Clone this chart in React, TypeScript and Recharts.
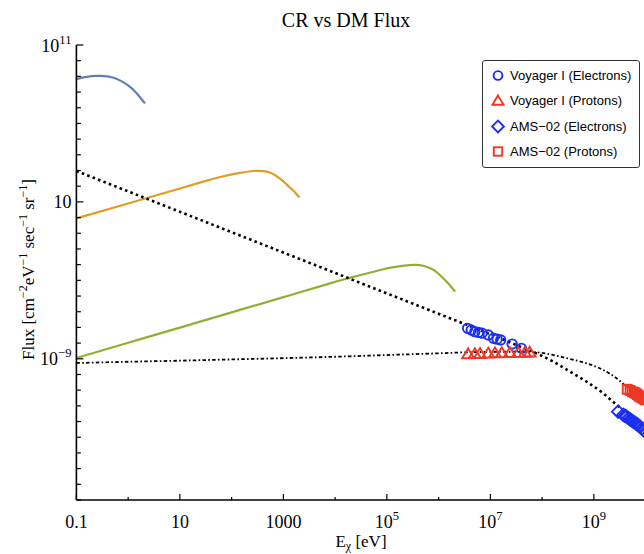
import { ComposedChart, Line, Scatter, XAxis, YAxis, Legend } from "recharts";

const SERIF = "'Liberation Serif', 'Times New Roman', serif";
const SANS = "'Liberation Sans', Arial, sans-serif";
const BLUE = "#1b2ff2";
const RED = "#ee3826";

// decades on the axes (log10 of the value)
const xDecades = [-1, 0, 1, 2, 3, 4, 5, 6, 7, 8, 9, 10];
const yDecades = [
    -18, -17, -16, -15, -14, -13, -12, -11, -10, -9, -8, -7, -6, -5, -4,
    -3, -2, -1, 0, 1, 2, 3, 4, 5, 6, 7, 8, 9, 10, 11,
];
const xMajor = [-1, 1, 3, 5, 7, 9];
const xMajorBase = ["0.1", "10", "1000", "10", "10", "10"];
const xMajorSup = ["", "", "", "5", "7", "9"];
const yMajor = [-9, 1, 11];
const yMajorBase = ["10", "10", "10"];
const yMajorSup = ["\u22129", "", "11"];

// curves as log10(E / eV) and log10(flux)
const dmLightE = [-1, -0.8, -0.6, -0.45, -0.3, -0.15, 0, 0.15, 0.326];
const dmLightF = [8.83, 8.97, 9.03, 9.02, 8.93, 8.73, 8.42, 7.98, 7.28];

const dmMidE = [-1, 0, 0.5, 1, 1.45, 1.8, 2.16, 2.42, 2.6, 2.75, 2.93, 3.1, 3.2, 3.31];
const dmMidF = [-0.05, 0.9, 1.38, 1.85, 2.29, 2.6, 2.85, 2.97, 2.96, 2.86, 2.5, 2.0, 1.7, 1.29];

const dmHeavyE = [-1, 0, 1, 2, 3, 3.9, 4.25, 4.87, 5.2, 5.51, 5.7, 5.85, 5.97, 6.09, 6.2, 6.32];
const dmHeavyF = [-8.95, -7.98, -7.01, -6.04, -5.07, -4.19, -3.87, -3.34, -3.13, -3.02, -3.07, -3.25, -3.5, -3.87, -4.25, -4.72];

const crElecE = [-1, 0, 1, 2, 3, 4, 5, 6, 6.5, 7, 7.5, 7.9, 8.2, 8.54, 8.86, 9.18, 9.44, 9.7, 10.1];
const crElecF = [2.97, 1.67, 0.37, -0.93, -2.23, -3.53, -4.83, -6.13, -6.78, -7.44, -8.12, -8.67, -9.15, -9.82, -10.46, -11.2, -11.94, -12.62, -13.7];

const crProtE = [-1, 0, 1, 2, 3, 4, 5, 6, 6.5, 7, 7.5, 7.9, 8.22, 8.5, 8.86, 9.18, 9.5, 9.65, 9.8, 10.1];
const crProtF = [-9.27, -9.19, -9.12, -9.04, -8.96, -8.87, -8.76, -8.65, -8.59, -8.56, -8.55, -8.59, -8.76, -8.98, -9.29, -9.71, -10.4, -10.85, -11.3, -12.1];

// measurements
const voyElecE = [6.56, 6.63, 6.7, 6.77, 6.84, 6.96, 7.06, 7.13, 7.2, 7.42, 7.6];
const voyElecF = [-7.06, -7.16, -7.27, -7.32, -7.37, -7.48, -7.69, -7.75, -7.8, -8.06, -8.33];

const voyProtE = [6.57, 6.7, 6.8, 6.96, 7.09, 7.22, 7.38, 7.54, 7.67, 7.76];
const voyProtF = [-8.68, -8.67, -8.66, -8.64, -8.62, -8.61, -8.6, -8.59, -8.58, -8.57];

const amsElecE = [9.47, 9.57, 9.6, 9.63, 9.67, 9.7, 9.73, 9.76, 9.8, 9.83, 9.86, 9.89, 9.93, 9.96, 10.02];
const amsElecF = [-12.37, -12.58, -12.63, -12.69, -12.78, -12.86, -12.93, -13.01, -13.09, -13.16, -13.24, -13.33, -13.44, -13.54, -13.72];

const amsProtE = [9.645, 9.7, 9.742, 9.78, 9.81, 9.84, 9.87, 9.9, 9.935, 9.97, 10.0];
const amsProtF = [-10.94, -11.02, -11.1, -11.15, -11.2, -11.28, -11.37, -11.43, -11.5, -11.56, -11.62];

const legendLabels = [
    "Voyager I (Electrons)",
    "Voyager I (Protons)",
    "AMS\u221202 (Electrons)",
    "AMS\u221202 (Protons)",
];

const pts = (es: number[], fs: number[]) =>
    es.map((e, i) => ({ x: Math.pow(10, e), y: Math.pow(10, fs[i]) }));

const exp = (v: number) => Math.round(Math.log10(v));

function marker(kind: number, cx: number, cy: number, s = 1) {
    const sw = 1.9;
    if (kind === 0)
        return <circle cx={cx} cy={cy} r={4.2 * s} fill="none" stroke={BLUE} strokeWidth={sw} />;
    if (kind === 1) {
        const p = `${cx},${cy - 4.8 * s} ${cx + 5.3 * s},${cy + 4 * s} ${cx - 5.3 * s},${cy + 4 * s}`;
        return <polygon points={p} fill="none" stroke={RED} strokeWidth={sw} />;
    }
    if (kind === 2) {
        const d = 5.6 * s;
        const p = `${cx},${cy - d} ${cx + d},${cy} ${cx},${cy + d} ${cx - d},${cy}`;
        return <polygon points={p} fill="none" stroke={BLUE} strokeWidth={sw} />;
    }
    return (
        <rect x={cx - 4 * s} y={cy - 4 * s} width={8 * s} height={8 * s} fill="none" stroke={RED} strokeWidth={sw} />
    );
}

function BottomTick(props: any) {
    const { x, y, payload } = props;
    const i = xMajor.indexOf(exp(payload.value));
    return (
        <g>
            <line x1={x} x2={x} y1={y} y2={y - (i >= 0 ? 6 : 3)} stroke="#000" strokeWidth={1.2} />
            {i >= 0 && (
                <text x={x} y={y + 28} textAnchor="middle" fontSize={18} fontFamily={SERIF} fill="#000">
                    {xMajorBase[i]}
                    {xMajorSup[i] && (
                        <tspan dy={-8} fontSize={12.5}>
                            {xMajorSup[i]}
                        </tspan>
                    )}
                </text>
            )}
        </g>
    );
}

function TopTick(props: any) {
    const { x, y, payload } = props;
    const major = xMajor.includes(exp(payload.value));
    return <line x1={x} x2={x} y1={y} y2={y + (major ? 6 : 3)} stroke="#000" strokeWidth={1.2} />;
}

function LeftTick(props: any) {
    const { x, y, payload } = props;
    const i = yMajor.indexOf(exp(payload.value));
    return (
        <g>
            <line x1={x} x2={x + (i >= 0 ? 7 : 4.5)} y1={y} y2={y} stroke="#000" strokeWidth={1.2} />
            {i >= 0 && (
                <text x={x - 5} y={y + 6.5} textAnchor="end" fontSize={18} fontFamily={SERIF} fill="#000">
                    {yMajorBase[i]}
                    {yMajorSup[i] && (
                        <tspan dy={-8} fontSize={12.5}>
                            {yMajorSup[i]}
                        </tspan>
                    )}
                </text>
            )}
        </g>
    );
}

function RightTick(props: any) {
    const { x, y, payload } = props;
    const major = yMajor.includes(exp(payload.value));
    return <line x1={x} x2={x - (major ? 7 : 4.5)} y1={y} y2={y} stroke="#000" strokeWidth={1.2} />;
}

function LegendBox() {
    return (
        <div
            style={{
                width: 156,
                height: 106,
                border: "1px solid #333",
                borderRadius: 3,
                background: "#fff",
                position: "relative",
                fontFamily: SANS,
                fontSize: 13,
                color: "#000",
            }}
        >
            {legendLabels.map((label, i) => (
                <div
                    key={label}
                    style={{
                        position: "absolute",
                        left: 0,
                        top: 2 + i * 25.3,
                        height: 25,
                        display: "flex",
                        alignItems: "center",
                        whiteSpace: "nowrap",
                    }}
                >
                    <svg width={27} height={25}>
                        {marker(i, 15, 12.5, 1.05)}
                    </svg>
                    <span>{label}</span>
                </div>
            ))}
        </div>
    );
}

const frame = { stroke: "#000", strokeWidth: 1.6 };

export default function App() {
    const curves = [
        { data: pts(dmLightE, dmLightF), stroke: "#5E81B5", dash: undefined, w: 2.2, t: "natural" },
        { data: pts(dmMidE, dmMidF), stroke: "#E19C24", dash: undefined, w: 2.2, t: "natural" },
        { data: pts(dmHeavyE, dmHeavyF), stroke: "#8FB032", dash: undefined, w: 2.2, t: "natural" },
        { data: pts(crElecE, crElecF), stroke: "#000", dash: "2.6 3.2", w: 2.6, t: "monotone" },
        { data: pts(crProtE, crProtF), stroke: "#000", dash: "3.5 2.3 1.6 2.3", w: 1.8, t: "monotone" },
    ];
    const sets = [
        pts(voyElecE, voyElecF),
        pts(voyProtE, voyProtF),
        pts(amsElecE, amsElecF),
        pts(amsProtE, amsProtF),
    ];
    return (
        <div
            style={{
                position: "absolute",
                left: 0,
                top: 0,
                width: 644,
                height: 554,
                overflow: "hidden",
                background: "#fff",
            }}
        >
            <ComposedChart width={660} height={554} margin={{ top: 45, right: 14.4, bottom: 0, left: 0 }}>
                <XAxis
                    xAxisId="b"
                    dataKey="x"
                    type="number"
                    scale="log"
                    domain={[0.1, 1e10]}
                    allowDataOverflow
                    ticks={xDecades.map((d) => Math.pow(10, d))}
                    interval={0}
                    height={54}
                    tickSize={0}
                    tickMargin={0}
                    tickLine={false}
                    axisLine={frame}
                    tick={(p: any) => <BottomTick {...p} />}
                />
                <XAxis
                    xAxisId="t"
                    orientation="top"
                    dataKey="x"
                    type="number"
                    scale="log"
                    domain={[0.1, 1e10]}
                    allowDataOverflow
                    ticks={xDecades.map((d) => Math.pow(10, d))}
                    interval={0}
                    height={0}
                    tickSize={0}
                    tickMargin={0}
                    tickLine={false}
                    axisLine={frame}
                    tick={(p: any) => <TopTick {...p} />}
                />
                <YAxis
                    yAxisId="l"
                    dataKey="y"
                    type="number"
                    scale="log"
                    domain={[1e-18, 1e11]}
                    allowDataOverflow
                    ticks={yDecades.map((d) => Math.pow(10, d))}
                    interval={0}
                    width={76.4}
                    tickSize={0}
                    tickMargin={0}
                    tickLine={false}
                    axisLine={frame}
                    tick={(p: any) => <LeftTick {...p} />}
                />
                <YAxis
                    yAxisId="r"
                    orientation="right"
                    dataKey="y"
                    type="number"
                    scale="log"
                    domain={[1e-18, 1e11]}
                    allowDataOverflow
                    ticks={yDecades.map((d) => Math.pow(10, d))}
                    interval={0}
                    width={0}
                    tickSize={0}
                    tickMargin={0}
                    tickLine={false}
                    axisLine={frame}
                    tick={(p: any) => <RightTick {...p} />}
                />
                {curves.map((c, i) => (
                    <Line
                        key={i}
                        xAxisId="b"
                        yAxisId="l"
                        data={c.data}
                        dataKey="y"
                        type={c.t as any}
                        stroke={c.stroke}
                        strokeWidth={c.w}
                        strokeDasharray={c.dash}
                        dot={false}
                        activeDot={false}
                        isAnimationActive={false}
                    />
                ))}
                {sets.map((d, k) => (
                    <Scatter
                        key={k}
                        xAxisId="b"
                        yAxisId="l"
                        data={d}
                        isAnimationActive={false}
                        shape={(p: any) => marker(k, p.cx, p.cy, 1.12)}
                    />
                ))}
                <Legend
                    layout="vertical"
                    align="center"
                    verticalAlign="middle"
                    content={() => <LegendBox />}
                    wrapperStyle={{ left: 482, top: 60, width: 158, height: 108 }}
                />
            </ComposedChart>
            <svg
                width={644}
                height={554}
                style={{ position: "absolute", left: 0, top: 0, pointerEvents: "none" }}
                fontFamily={SERIF}
                fill="#000"
            >
                <text x={346} y={26.5} textAnchor="middle" fontSize={20}>
                    CR vs DM Flux
                </text>
                <text x={361} y={547} textAnchor="middle" fontSize={17}>
                    E
                    <tspan dy={3} fontSize={12}>
                        χ
                    </tspan>
                    <tspan dy={-3}> [eV]</tspan>
                </text>
                <text transform="translate(33.5,269.5) rotate(-90)" textAnchor="middle" fontSize={17}>
                    Flux [cm
                    <tspan dy={-7} fontSize={12}>
                        {"\u22122"}
                    </tspan>
                    <tspan dy={7}>eV</tspan>
                    <tspan dy={-7} fontSize={12}>
                        {"\u22121"}
                    </tspan>
                    <tspan dy={7}> sec</tspan>
                    <tspan dy={-7} fontSize={12}>
                        {"\u22121"}
                    </tspan>
                    <tspan dy={7}> sr</tspan>
                    <tspan dy={-7} fontSize={12}>
                        {"\u22121"}
                    </tspan>
                    <tspan dy={7}>]</tspan>
                </text>
            </svg>
        </div>
    );
}
